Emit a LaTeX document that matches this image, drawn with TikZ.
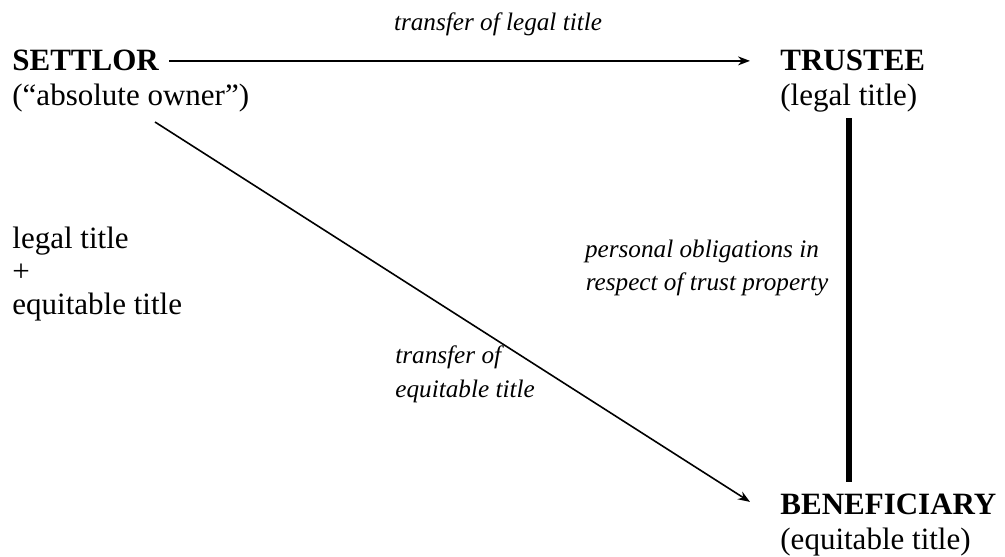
\documentclass[tikz,border=0pt]{standalone}
\usepackage{fontspec}
\setmainfont{Liberation Serif}
\usetikzlibrary{arrows.meta}

\begin{document}
\begin{tikzpicture}[x=0.5pt,y=-0.5pt,
    party/.style={inner sep=0pt,anchor=base west,font=\fontsize{15.5}{18}\selectfont\bfseries},
    role/.style={inner sep=0pt,anchor=base west,font=\fontsize{15.5}{18}\selectfont},
    remark/.style={inner sep=0pt,anchor=base,font=\fontsize{12.6}{15}\selectfont\itshape},
    transfer/.style={line width=0.8pt,-{Stealth[length=6pt,width=4.5pt]}}]

\useasboundingbox (0,0) rectangle (1005,556);

% Parties
\node[party] (settlor) at (12,71) {SETTLOR};
\node[role] (settlorsub) at (12,105) {(“absolute owner”)};
\node[party] (trustee) at (780,71) {TRUSTEE};
\node[role] (trusteesub) at (780,105) {(legal title)};
\node[party] (beneficiary) at (780,514) {BENEFICIARY};
\node[role] (beneficiarysub) at (780,549) {(equitable title)};

% Titles held by the settlor
\node[role] (legal) at (12,248) {legal title};
\node[role] (plus) at (12,281) {+};
\node[role] (equitable) at (12,314) {equitable title};

% Labels
\node[remark] (legallbl) at (498,31) {transfer of legal title};
\node[remark] (oblig1) at (702,257) {personal obligations in};
\node[remark] (oblig2) at (707,290) {respect of trust property};
\node[remark,anchor=base west] (eqlbl1) at (395,363) {transfer of};
\node[remark,anchor=base west] (eqlbl2) at (395,397) {equitable title};

% Connectors
\coordinate (eqstart) at (155,122);
\draw[transfer,shorten <=5pt,shorten >=15pt] (settlor.east) -- (trustee.west);
\draw[transfer] (eqstart) -- ([xshift=-15pt,yshift=1pt]beneficiary.west);
\draw[line width=3pt,shorten <=3pt,shorten >=5.5pt]
    (trusteesub.south) -- (trusteesub.south |- beneficiary.north);
\end{tikzpicture}
\end{document}
